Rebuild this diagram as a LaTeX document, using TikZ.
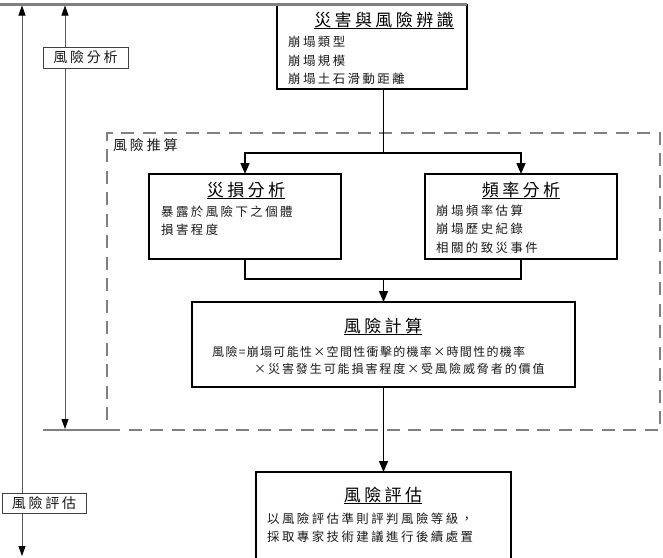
\documentclass[tikz,border=0pt]{standalone}
\usepackage{fontspec}
\usetikzlibrary{arrows.meta,calc}
\newfontfamily\cjkfam[LetterSpace=20]{Noto Sans CJK TC}
\newfontfamily\cjkfamB[LetterSpace=11]{Noto Sans CJK TC}
\newfontfamily\cjkfamC[LetterSpace=16]{Noto Sans CJK TC}
\newcommand\itmfont{\cjkfam\fontsize{12.4}{14}\selectfont}
\newcommand\fxafont{\cjkfamB\fontsize{12}{14}\selectfont}
\newcommand\fxbfont{\cjkfamC\fontsize{12}{14}\selectfont}
\newcommand\ttlfont{\cjkfam\fontsize{17}{20}\selectfont}
\newcommand\lblfont{\cjkfam\fontsize{14}{16}\selectfont}
\begin{document}
\begin{tikzpicture}[x=1pt,y=-1pt,
  box/.style={draw=black, line width=1.3pt, fill=white, inner sep=0pt, outer sep=0pt, anchor=north west},
  ttl/.style={font=\ttlfont, anchor=base, inner sep=0pt, text=black},
  itm/.style={font=\itmfont, anchor=west, inner sep=0pt, text=black!90},
  lbl/.style={draw=black!75, line width=0.9pt, fill=white, font=\lblfont, inner sep=0pt, text=black!90},
  conn/.style={draw=black, line width=1.5pt},
  arr/.style={conn, -{Triangle[length=11pt,width=9pt]}},
  gline/.style={draw=black!50, line width=2.2pt},
  dbox/.style={draw=black!50, line width=2pt, dash pattern=on 13pt off 8.5pt, inner sep=0pt, outer sep=0pt, anchor=north west},
  rng/.style={draw=black!65, line width=0.9pt},
  rarr/.style={rng, {Triangle[length=10pt,width=7pt,color=black]}-{Triangle[length=10pt,width=7pt,color=black]}},
  uline/.style={draw=black, line width=1pt}
]
\path[use as bounding box] (0,0) rectangle (663,557);
\clip (0,0) rectangle (663,557);
\fill[white] (0,0) rectangle (663,557);

% dashed region
\node[dbox, minimum width=553pt, minimum height=297pt] (tj) at (107,133) {};
\node[font=\lblfont, anchor=west, inner sep=0pt, text=black!90] (lc) at (113,145) {風險推算};

% boxes
\node[box, minimum width=190pt, minimum height=84.5pt] (hz) at (277,4.5) {};
\node[box, minimum width=192pt, minimum height=85pt] (ds) at (149,174) {};
\node[box, minimum width=192pt, minimum height=85pt] (pl) at (425,174) {};
\node[box, minimum width=383pt, minimum height=85pt] (fx) at (192,302) {};
\node[box, minimum width=255pt, minimum height=130pt] (pg) at (256,472) {};

% titles
\node[ttl] (t1) at (384,26) {災害與風險辨識};
\node[ttl] (t2) at (246,196) {災損分析};
\node[ttl] (t3) at (521,196) {頻率分析};
\node[ttl] (t4) at (383,332) {風險計算};
\node[ttl] (t5) at (383,501) {風險評估};
\foreach \t in {t1,t2,t3,t4,t5}{
  \draw[uline] ([yshift=-2.5pt]\t.base west) -- ([yshift=-2.5pt]\t.base east);
}

% items
\node[itm] (a1) at (288,42) {崩塌類型};
\node[itm] (a2) at (288,61) {崩塌規模};
\node[itm] (a3) at (288,79) {崩塌土石滑動距離};
\node[itm] (b1) at (161,212) {暴露於風險下之個體};
\node[itm] (b2) at (161,230) {損害程度};
\node[itm] (c1) at (436,211) {崩塌頻率估算};
\node[itm] (c2) at (436,229) {崩塌歷史紀錄};
\node[itm] (c3) at (436,248) {相關的致災事件};
\node[itm, font=\fxafont] (d1) at (212,352) {風險=崩塌可能性×空間性衝擊的機率×時間性的機率};
\node[itm, font=\fxbfont] (d2) at (254,369) {×災害發生可能損害程度×受風險威脅者的價值};
\node[itm] (e1) at (267,519) {以風險評估準則評判風險等級，};
\node[itm] (e2) at (267,537) {採取專家技術建議進行後續處置};

% connectors
\coordinate (j1) at (383.5,153);
\coordinate (j2) at (383.5,279);
\draw[conn] (fx.north |- hz.south) -- (j1);
\draw[arr] (j1) -| (ds.north);
\draw[arr] (j1) -| (pl.north);
\draw[conn] (ds.south) |- (j2);
\draw[conn] (pl.south) |- (j2);
\draw[arr] (j2) -- (fx.north);
\draw[arr] (fx.south) -- (pg.north);

% top and bottom range lines
\coordinate (tl) at (0,4.5);
\draw[gline] (tl) -- (tl -| hz.east);
\coordinate (bl) at (43,430);
\draw[gline] (bl) -- (bl -| tj.west);

% range arrows
\coordinate (oT) at (22,5.5);
\coordinate (oB) at (22,556);
\coordinate (iT) at (65,5.5);
\coordinate (iB) at (65,429);
\draw[rarr] (oT) -- (oB);
\draw[rarr] (iT) -- (iB);

% range labels
\node[lbl, minimum width=85pt, minimum height=21pt] (la) at (85.5,57.5) {風險分析};
\node[lbl, minimum width=84pt, minimum height=20pt] (lb) at (44,503) {風險評估};
\end{tikzpicture}
\end{document}
